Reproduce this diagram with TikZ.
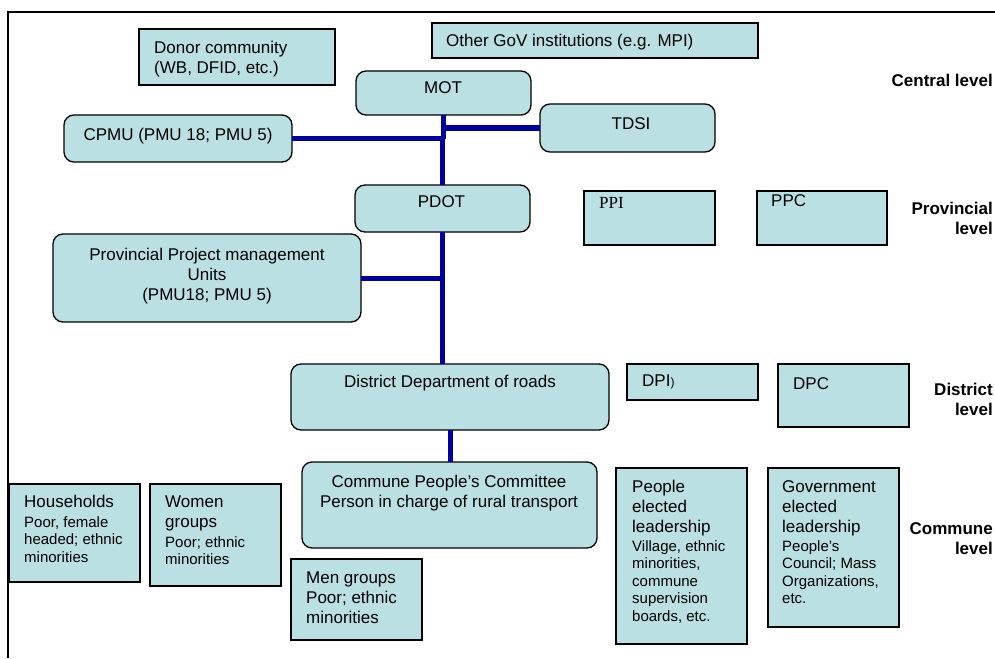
\documentclass[tikz,border=0pt]{standalone}
\usepackage{fontspec}
\setmainfont{Liberation Sans}
\newfontfamily\seriffam{Liberation Serif}
\usetikzlibrary{calc}
\definecolor{boxfill}{RGB}{187,224,227}
\definecolor{connblue}{RGB}{0,0,160}
\newcommand\mainsz{\fontsize{17}{20}\selectfont}
\newcommand\subsz{\fontsize{15}{17.5}\selectfont}
\newcommand\mkbox[6]{\node[#1, minimum width={#5-#3}, minimum height={#6-#4}] (#2) at (#3,#4) {};}
\tikzset{
  sqbox/.style={draw=black, line width=1.3pt, fill=boxfill, inner sep=0pt, outer sep=0pt, anchor=north west},
  rndbox/.style={sqbox, rounded corners=10pt},
  txtl/.style={anchor=north west, inner sep=0pt, align=left, font=\mainsz},
  txtc/.style={anchor=north, inner sep=0pt, align=center, font=\mainsz},
  subl/.style={anchor=north west, inner sep=0pt, align=left, font=\subsz},
  lvl/.style={anchor=north east, inner sep=0pt, align=right, font=\mainsz\bfseries},
  conn/.style={draw=connblue, line width=5pt}
}
\begin{document}
\begin{tikzpicture}[x=1pt, y=-1pt]
\useasboundingbox (0,0) rectangle (995,658);
% frame
\draw[line width=2pt] (995,12) -- (8,12) -- (8,658);
% boxes
\mkbox{sqbox}{donor}{139}{29}{335}{85}
\mkbox{sqbox}{other}{432}{23}{758}{58}
\mkbox{rndbox}{mot}{356}{71}{531}{115}
\mkbox{rndbox}{tdsi}{540}{104}{715}{152}
\mkbox{rndbox}{cpmu}{64}{115}{292}{162}
\mkbox{rndbox}{pdot}{355}{185}{530}{232}
\mkbox{sqbox}{ppi}{584}{191}{715}{245}
\mkbox{sqbox}{ppc}{757}{191}{887}{245}
\mkbox{rndbox}{ppmu}{53}{234}{361}{322}
\mkbox{rndbox}{dist}{291}{364}{609}{430}
\mkbox{sqbox}{dpi}{627}{364}{758}{400}
\mkbox{sqbox}{dpc}{778}{364}{909}{427}
\mkbox{rndbox}{comm}{302}{462}{597}{548}
\mkbox{sqbox}{hh}{9}{484}{140}{582}
\mkbox{sqbox}{women}{150}{484}{281}{586}
\mkbox{sqbox}{men}{291}{559}{422}{640}
\mkbox{sqbox}{people}{616}{468}{747}{644}
\mkbox{sqbox}{govt}{768}{468}{899}{627}
% connectors
\draw[conn] (mot.south) -- (mot.south |- cpmu.east);
\draw[conn] (tdsi.west) -- (tdsi.west -| mot.south);
\draw[conn] (cpmu.east) -- (cpmu.east -| pdot.north) -- (pdot.north);
\draw[conn] (pdot.south) -- (pdot.south |- dist.north);
\draw[conn] (ppmu.east) -- (ppmu.east -| pdot.south);
\draw[conn] (dist.south) -- (dist.south |- comm.north);
% texts
\node[txtl] (donor-t) at (154,41) {Donor community\\(WB, DFID, etc.)};
\node[txtl] (other-t) at (446,34) {Other GoV institutions (e.g. MPI)};
\node[txtc] (mot-t) at (443,81) {MOT};
\node[txtc] (tdsi-t) at (631,117) {TDSI};
\node[txtc] (cpmu-t) at (178,128) {CPMU (PMU 18; PMU 5)};
\node[txtc] (pdot-t) at (441.5,195) {PDOT};
\node[txtl, font=\mainsz\seriffam] (ppi-t) at (599,197) {PPI};
\node[txtl] (ppc-t) at (771,194) {PPC};
\node[txtc] (ppmu-t) at (207,248) {Provincial Project management\\Units\\(PMU18; PMU 5)};
\node[txtc] (dist-t) at (450,375) {District Department of roads};
\node[txtl] (dpi-t) at (642,375) {DPI{\fontsize{12}{14}\selectfont )}};
\node[txtl] (dpc-t) at (793,377) {DPC};
\node[txtc] (comm-t) at (449,475) {Commune People’s Committee\\Person in charge of rural transport};
\node[txtl] (hh-t) at (24,495) {Households};
\node[subl] (hh-s) at (24,516) {Poor, female\\headed; ethnic\\minorities};
\node[txtl] (women-t) at (165,496) {Women\\groups};
\node[subl] (women-s) at (165,536) {Poor; ethnic\\minorities};
\node[txtl] (men-t) at (306,572) {Men groups\\Poor; ethnic\\minorities};
\node[txtl] (people-t) at (632,480) {People\\elected\\leadership};
\node[subl] (people-s) at (632,540) {Village, ethnic\\minorities,\\commune\\supervision\\boards, etc.};
\node[txtl] (govt-t) at (782,480) {Government\\elected\\leadership};
\node[subl] (govt-s) at (782,540) {People’s\\Council; Mass\\Organizations,\\etc.};
% level labels
\node[lvl] (lv-central) at (993,74) {Central level};
\node[lvl] (lv-prov) at (993,202) {Provincial\\level};
\node[lvl] (lv-dist) at (993,383) {District\\level};
\node[lvl] (lv-comm) at (993,522) {Commune\\level};
\end{tikzpicture}
\end{document}
